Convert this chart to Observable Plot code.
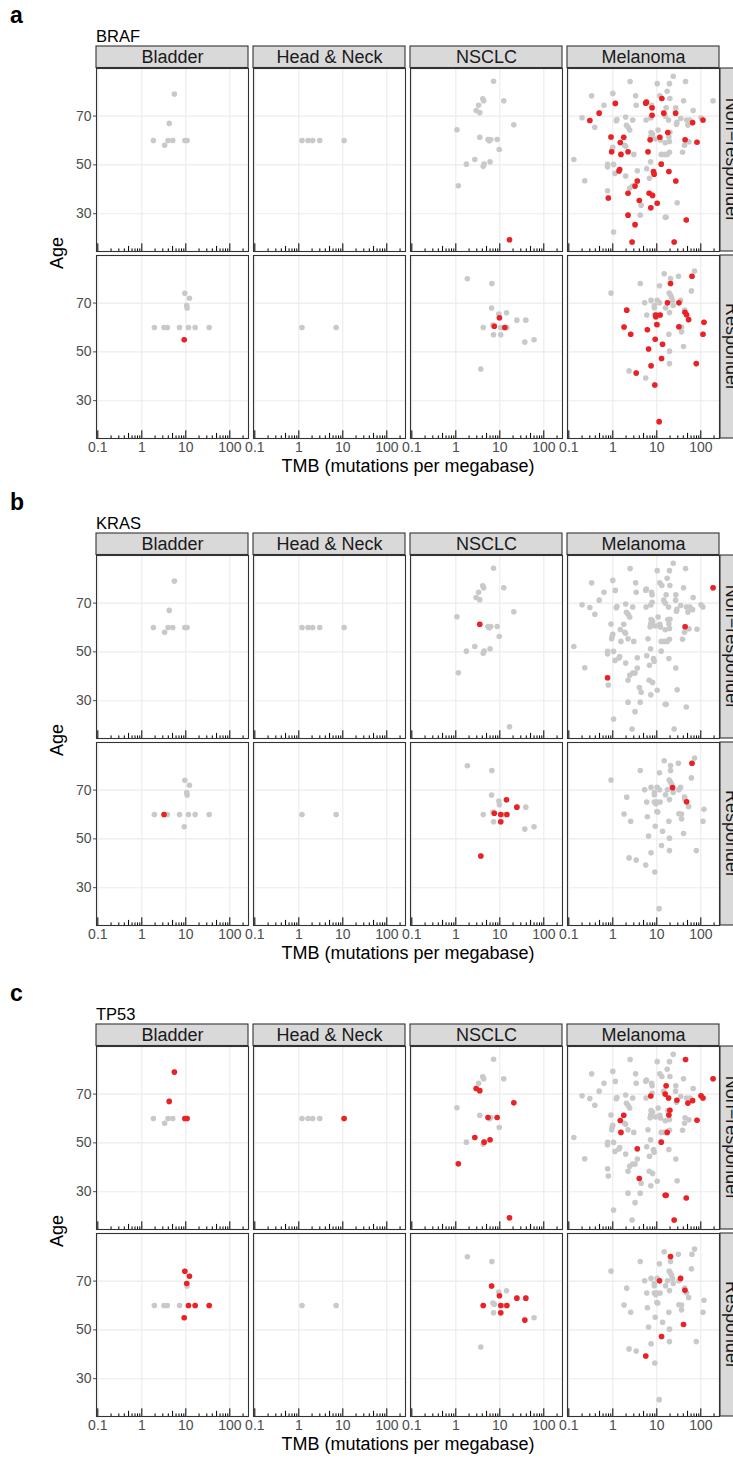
<!DOCTYPE html>
<html>
<head>
<meta charset="utf-8">
<script src="https://cdn.jsdelivr.net/npm/d3@7"></script>
<script src="https://cdn.jsdelivr.net/npm/@observablehq/plot@0.6"></script>
<style>
  body { margin: 0; background: #fff; font-family: "Liberation Sans", Arial, Helvetica, sans-serif; }
  #root { width: 733px; }
  .fig { position: relative; width: 733px; overflow: hidden; }
  .fig svg { position: absolute; left: 0; top: 0; }
  .tag { position: absolute; left: 10px; top: 4px; font-size: 23px; font-weight: bold; color: #000; line-height: 1; }
  .gene { position: absolute; left: 96px; top: 28px; font-size: 16.5px; color: #000; line-height: 1; }
  .ylab { position: absolute; left: 57px; top: 253px; transform: translate(-50%, -50%) rotate(-90deg); font-size: 18px; color: #000; white-space: nowrap; line-height: 1; }
  .xlab { position: absolute; left: 408px; top: 466px; transform: translate(-50%, -50%); font-size: 18px; color: #000; white-space: nowrap; line-height: 1; }
</style>
</head>
<body>
<div id="root"></div>
<script>
// ---------------- data ----------------
const cancers = ["Bladder", "Head & Neck", "NSCLC", "Melanoma"];
const responses = ["Non\u2212responder", "Responder"];
const genes = ["BRAF", "KRAS", "TP53"];
const geneCodes = ["B", "K", "T"];
const panelTags = ["a", "b", "c"];
const xTickValues = [0.1, 1, 10, 100];
const xTickLabels = ["0.1", "1", "10", "100"];
const yTickValues = [30, 50, 70];

// each entry: [TMB, Age, mutated genes (B = BRAF, K = KRAS, T = TP53)]
const bladderNonResp = [
  [5.5, 79, "T"], [4.2, 67, "T"], [1.83, 60, ""], [3.3, 58, ""], [3.95, 60, ""],
  [5.05, 60, ""], [9.5, 60, "T"], [10.7, 60, "T"]
];
const bladderResp = [
  [9.5, 74, "T"], [12.1, 72, "T"], [10.5, 69, "T"], [10.7, 68, ""], [1.93, 60, ""],
  [3.2, 60, "K"], [3.8, 60, ""], [7.2, 60, ""], [11.5, 60, "T"], [16.3, 60, "T"],
  [34, 60, "T"], [9.2, 55, "BT"]
];
const headNeckNonResp = [
  [1.18, 60, ""], [1.62, 60, ""], [2.07, 60, ""], [2.99, 60, ""], [10.7, 60, "T"]
];
const headNeckResp = [
  [1.18, 60, ""], [7.05, 60, ""]
];
const nsclcNonResp = [
  [7.2, 84.3, ""], [4.1, 77.1, ""], [4.3, 76.3, ""], [3.3, 74.4, ""], [2.9, 72.3, "T"],
  [3.5, 71.4, "T"], [12.3, 76.3, ""], [20.8, 66.4, "T"], [1.06, 64.4, ""], [3.5, 61.3, "K"],
  [5.4, 60.4, "T"], [5.8, 59.9, ""], [6.2, 60.4, ""], [8.7, 60.4, "T"], [9.7, 56.3, ""],
  [2.7, 52.2, "T"], [1.74, 50.3, ""], [4.4, 50.3, "T"], [4.2, 49.4, ""], [6.0, 51.3, "T"],
  [1.14, 41.4, "T"], [16.6, 19.3, "BT"]
];
const nsclcResp = [
  [1.83, 80, ""], [6.6, 78, ""], [6.5, 68, "T"], [14.2, 66, "K"], [9.5, 65.5, ""],
  [9.8, 64, "BT"], [24.4, 63, "KT"], [39, 63, "T"], [4.2, 60, "T"], [7.0, 61, ""],
  [7.5, 60.5, "BK"], [10.5, 60, "KT"], [13, 60, "B"], [14.5, 60, "KT"], [7.2, 57, ""],
  [10.5, 57, "KT"], [37, 54, "T"], [60, 55, ""], [3.7, 43, "K"]
];
const melanomaNonResp = [
  [23.6, 86.3, ""], [2.47, 84.2, ""], [10.2, 83.3, ""], [19.4, 83.3, ""], [45, 84.2, "T"],
  [17.2, 80.2, ""], [0.33, 78.3, ""], [1.0, 79.3, ""], [3.3, 78.3, ""], [11.7, 78.3, ""],
  [0.63, 74.4, ""], [3.4, 74.4, ""], [7.6, 74.4, ""], [19.8, 77.2, ""], [40.5, 76.3, ""],
  [190, 76.3, "KT"], [16.3, 73.4, "T"], [27, 73.4, ""], [67, 72.3, ""], [0.2, 69.3, ""],
  [1.24, 68.6, ""], [1.2, 68.1, ""], [1.96, 69.6, ""], [2.83, 68.4, ""], [5.7, 68.4, ""],
  [7.3, 69.2, "T"], [15.5, 70, "T"], [18.5, 68.4, "T"], [28.6, 67.5, "T"], [28, 66.7, ""],
  [35, 69, ""], [47.5, 68.4, ""], [56.6, 68.4, ""], [101, 69.3, "T"], [0.39, 65.4, ""],
  [2.04, 66.2, ""], [2.22, 65.4, ""], [2.42, 64.3, ""], [10.7, 64.3, ""], [7.4, 63.3, ""],
  [8, 62.6, ""], [19.8, 63.4, "T"], [51, 66.3, "T"], [1.0, 57.2, ""], [0.97, 56.5, ""],
  [1.86, 58, ""], [1.95, 57.6, ""], [3.0, 54.3, ""], [7.3, 61.5, ""], [9.3, 60.6, ""],
  [12.1, 60.2, ""], [15.5, 59.1, ""], [19.4, 59.6, ""], [18.8, 61.4, "T"], [19.4, 55.2, ""],
  [17.2, 54.3, "T"], [12.6, 54.3, ""], [15, 54.3, ""], [7.2, 51.3, ""], [38.5, 55.2, ""],
  [42.7, 58, ""], [53.7, 59.5, ""], [0.13, 52.2, ""], [0.76, 50.2, ""], [0.76, 49.2, ""],
  [1.04, 50.2, ""], [1.12, 46.5, ""], [1.96, 45.4, ""], [3.6, 47.6, "T"], [5.9, 48.4, ""],
  [6.8, 44.5, ""], [2.42, 40.4, ""], [2.83, 41.3, ""], [0.23, 43.5, ""], [0.76, 39.4, "K"],
  [4.4, 33.5, ""], [29, 34.5, ""], [4.2, 29.4, ""], [16.3, 28.5, "T"], [15.5, 28.5, "T"],
  [1.04, 22.5, ""],
  [13, 77.2, "B"], [5.8, 75.7, "B"], [5.6, 75.3, "B"], [1.14, 75.2, "B"], [7.8, 73.4, "B"],
  [0.49, 71.2, "B"], [0.3, 68.2, "B"], [7.8, 70.3, "B"], [14.4, 71.2, "B"], [26.7, 71.2, "B"],
  [65, 67.3, "BT"], [112, 68.4, "BT"], [0.91, 61.4, "B"], [1.77, 61.3, "BT"], [1.48, 59.2, "BT"],
  [7.05, 60.3, "B"], [11.7, 61.3, "B"], [17.8, 63.3, "B"], [44, 60.3, "BK"], [82, 59.3, "BT"],
  [0.94, 55.4, "B"], [1.53, 54.3, "BT"], [2.22, 55.4, "B"], [6.3, 55.4, "B"], [12.6, 50.3, "BT"],
  [1.43, 48.1, "B"], [1.38, 47.5, "B"], [8.4, 47.3, "B"], [8.7, 46.2, "B"], [18.8, 47.3, "B"],
  [3.6, 43.4, "B"], [3.2, 41.3, "B"], [27, 43.4, "B"], [0.79, 36.4, "B"], [2.22, 38.4, "B"],
  [6.7, 38.4, "B"], [8, 37.5, "B"], [4.0, 35.4, "BT"], [10.2, 34.3, "B"], [7.3, 32.4, "B"],
  [2.22, 29.4, "B"], [46.7, 27.4, "BT"], [3.2, 25.5, "B"], [2.74, 18.4, "B"], [24.8, 18.4, "BT"]
];
const melanomaResp = [
  [72, 83.1, ""], [14.7, 82, ""], [31, 81, ""], [20.5, 80.1, "T"], [4.2, 78, ""],
  [11.5, 77.1, ""], [0.91, 74.1, ""], [61, 75, ""], [19.1, 74.1, ""], [20.5, 73.3, ""],
  [21.6, 72.4, ""], [7.4, 71.1, ""], [5.3, 70.1, ""], [10.2, 71.1, ""], [11.5, 70.1, "T"],
  [15.8, 68.1, ""], [8.8, 69, ""], [8.8, 68.1, ""], [23.6, 69, ""], [34.7, 71.1, "T"],
  [5.9, 65.1, ""], [8.8, 65.1, ""], [10, 65.1, ""], [19.4, 66.1, ""], [42.8, 67.1, ""],
  [10.5, 61, ""], [36.5, 60.2, ""], [36.5, 58.2, ""], [18.8, 57.2, ""], [19.4, 50.3, ""],
  [40.5, 52.2, "T"], [2.34, 42.2, ""], [5.6, 39.3, "T"], [19.4, 45.2, ""], [22.8, 71, "K"],
  [63, 81, "BK"], [20.5, 78, "B"], [17.5, 70.1, "B"], [31.8, 70.1, "B"], [43.6, 66.2, "BT"],
  [47.5, 65.2, "BK"], [52.8, 63.2, "B"], [11.9, 65.1, "B"], [9.5, 64.4, "B"], [9.5, 65.1, "B"],
  [10, 61.2, "B"], [2.07, 67.1, "B"], [1.8, 60.2, "B"], [2.55, 57.2, "B"], [6.1, 59.1, "B"],
  [31.8, 60.3, "B"], [118, 62.1, "B"], [112, 57.2, "B"], [9.2, 55.2, "B"], [13.5, 53.1, "B"],
  [6.5, 51.2, "B"], [12.8, 47.3, "BT"], [7.4, 44.3, "B"], [3.4, 41.3, "B"], [79, 45.2, "B"],
  [9.0, 36.4, "B"], [11.3, 21.4, "B"]
];

const facetData = [
  ["Bladder", responses[0], bladderNonResp], ["Bladder", responses[1], bladderResp],
  ["Head & Neck", responses[0], headNeckNonResp], ["Head & Neck", responses[1], headNeckResp],
  ["NSCLC", responses[0], nsclcNonResp], ["NSCLC", responses[1], nsclcResp],
  ["Melanoma", responses[0], melanomaNonResp], ["Melanoma", responses[1], melanomaResp]
];
const patients = facetData.flatMap(([cancer, response, rows]) =>
  rows.map(([tmb, age, muts]) => ({cancer, response, tmb, age, muts})));

// ---------------- layout ----------------
const figHeights = [487, 491, 486];
const xDomain = [0.0933, 266];
const yDomain = [14.5, 89.5];
const marginTop = 68, marginLeft = 96, marginRight = 13;
const panelH = 183, gapY = 4, panelW = 152.25, gapX = 5;
const stripH = 22;
const pxPerYear = panelH / (yDomain[1] - yDomain[0]);
const pxPerDecade = panelW / Math.log10(xDomain[1] / xDomain[0]);
const grayCol = "#C9C9C9", redCol = "#EE2024";

// log tick marks (annotation_logticks style)
const logTicks = [];
for (let k = -1; k <= 2; k++) for (let m = 1; m <= 9; m++) {
  const v = +(m * Math.pow(10, k)).toPrecision(3);
  if (v >= xDomain[0] && v <= xDomain[1]) logTicks.push({v, kind: m === 1 ? "long" : m === 5 ? "mid" : "short"});
}
const tickLen = {long: 7.7, mid: 5.1, short: 2.6};

const root = document.getElementById("root");

genes.forEach((gene, gi) => {
  const code = geneCodes[gi];
  const H = figHeights[gi];
  const mutated = patients.filter(d => d.muts.includes(code));

  const topStrips = cancers.map(c => ({cancer: c}));
  const rightStrips = responses.map(r => ({response: r}));
  const stripY1 = yDomain[1] + 0.5 / pxPerYear;
  const stripY2 = yDomain[1] + stripH / pxPerYear;
  const rsX1 = xDomain[1] * Math.pow(10, 1 / pxPerDecade);
  const rsX2 = xDomain[1] * Math.pow(10, (stripH + 1) / pxPerDecade);
  const rsXc = xDomain[1] * Math.pow(10, (stripH / 2 + 1) / pxPerDecade);

  const chart = Plot.plot({
    width: 733,
    height: H,
    marginTop,
    marginBottom: H - 438,
    marginLeft,
    marginRight,
    style: {fontFamily: '"Liberation Sans", Arial, Helvetica, sans-serif', fontSize: "14px", color: "#4D4D4D", background: "white"},
    fx: {domain: cancers, paddingInner: gapX / (panelW + gapX), paddingOuter: 0, axis: null, label: null},
    fy: {domain: responses, paddingInner: gapY / (panelH + gapY), paddingOuter: 0, axis: null, label: null},
    x: {type: "log", domain: xDomain, ticks: xTickValues, tickFormat: d => xTickLabels[xTickValues.indexOf(d)] ?? "", tickSize: 0, tickPadding: 4, label: null},
    y: {domain: yDomain, ticks: yTickValues, tickSize: 3, tickPadding: 2, label: null},
    marks: [
      Plot.ruleX(xTickValues, {stroke: "#EBEBEB", strokeWidth: 1.1}),
      Plot.ruleY(yTickValues, {stroke: "#EBEBEB", strokeWidth: 1.1}),
      Plot.ruleX(logTicks.filter(d => d.kind === "long"), {x: "v", stroke: "#000", strokeWidth: 1, insetTop: panelH - tickLen.long}),
      Plot.ruleX(logTicks.filter(d => d.kind === "mid"), {x: "v", stroke: "#000", strokeWidth: 1, insetTop: panelH - tickLen.mid}),
      Plot.ruleX(logTicks.filter(d => d.kind === "short"), {x: "v", stroke: "#000", strokeWidth: 1, insetTop: panelH - tickLen.short}),
      Plot.dot(patients, {x: "tmb", y: "age", fx: "cancer", fy: "response", r: 2.8, fill: grayCol, stroke: null}),
      Plot.dot(mutated, {x: "tmb", y: "age", fx: "cancer", fy: "response", r: 2.8, fill: redCol, stroke: null}),
      Plot.frame({stroke: "#333333", strokeWidth: 1.1}),
      // top facet strips
      Plot.rect(topStrips, {fx: "cancer", fy: () => responses[0], x1: xDomain[0], x2: xDomain[1], y1: stripY1, y2: stripY2, fill: "#D9D9D9", stroke: "#333333", strokeWidth: 1.1}),
      Plot.text(topStrips, {fx: "cancer", fy: () => responses[0], x: Math.sqrt(xDomain[0] * xDomain[1]), y: (stripY1 + stripY2) / 2, text: "cancer", fontSize: 18, fill: "#1A1A1A"}),
      // right facet strips
      Plot.rect(rightStrips, {fx: () => "Melanoma", fy: "response", x1: rsX1, x2: rsX2, y1: yDomain[0], y2: yDomain[1], fill: "#D9D9D9", stroke: "#333333", strokeWidth: 1.1}),
      Plot.text(rightStrips, {fx: () => "Melanoma", fy: "response", x: rsXc, y: (yDomain[0] + yDomain[1]) / 2, text: "response", rotate: 90, fontSize: 18, fill: "#1A1A1A"})
    ]
  });

  const fig = document.createElement("div");
  fig.className = "fig";
  fig.style.height = H + "px";
  fig.appendChild(chart);
  const add = (cls, txt) => { const e = document.createElement("div"); e.className = cls; e.textContent = txt; fig.appendChild(e); };
  add("tag", panelTags[gi]);
  add("gene", gene);
  add("ylab", "Age");
  add("xlab", "TMB (mutations per megabase)");
  root.appendChild(fig);
});
</script>
</body>
</html>
